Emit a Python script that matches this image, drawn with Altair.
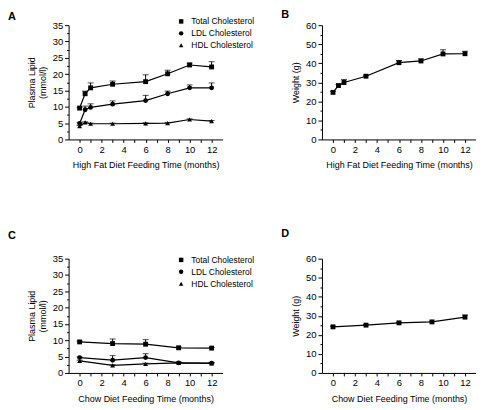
import altair as alt
import pandas as pd

FONT = "Liberation Sans"

# ---- Panel A: high fat diet lipids ----
hf_time = [0, 0.5, 1, 3, 6, 8, 10, 12]
hf_total = [9.6, 14.0, 15.8, 16.9, 17.7, 20.1, 22.8, 22.2]
hf_total_err = [0.2, 0.8, 1.5, 1.0, 2.1, 1.1, 0.6, 1.6]
hf_ldl = [4.9, 9.1, 9.8, 10.8, 11.9, 14.0, 15.8, 15.8]
hf_ldl_err = [0.3, 1.1, 1.1, 1.0, 1.6, 0.8, 0.9, 1.5]
hf_hdl = [4.1, 5.2, 4.8, 4.8, 4.9, 5.0, 6.1, 5.6]
hf_hdl_err = [0.2, 0.2, 0.2, 0.2, 0.2, 0.2, 0.2, 0.2]

# ---- Panel B: high fat diet weight ----
hf_weight = [24.7, 28.3, 29.9, 33.2, 40.3, 41.2, 44.9, 45.0]
hf_weight_err = [0.5, 0.5, 1.6, 0.5, 1.1, 1.1, 2.2, 1.3]

# ---- Panel C: chow diet lipids ----
ch_time = [0, 3, 6, 9, 12]
ch_total = [9.5, 9.0, 8.8, 7.7, 7.6]
ch_total_err = [0.2, 1.4, 1.4, 0.2, 0.2]
ch_ldl = [4.7, 3.9, 4.7, 3.1, 3.0]
ch_ldl_err = [0.2, 1.4, 1.2, 0.2, 0.2]
ch_hdl = [3.7, 2.3, 2.8, 3.1, 2.9]
ch_hdl_err = [0.2, 0.2, 0.2, 0.2, 0.2]

# ---- Panel D: chow diet weight ----
ch_weight = [24.2, 25.1, 26.3, 26.8, 29.3]
ch_weight_err = [0.3, 0.3, 0.3, 0.3, 1.1]

series_names = ["Total Cholesterol", "LDL Cholesterol", "HDL Cholesterol"]
series_shapes = ["square", "circle", "triangle-up"]

x_ticks = list(range(0, 13))
lipid_ticks = [v * 2.5 for v in range(0, 15)]
weight_ticks = list(range(0, 61, 5))


def lipid_df(time, vals, errs):
    rows = []
    for name, v, e in zip(series_names, vals, errs):
        for t, y, err in zip(time, v, e):
            rows.append({"t": t, "y": y, "hi": y + err, "series": name})
    return pd.DataFrame(rows)


def weight_df(time, vals, errs):
    return pd.DataFrame({"t": time, "y": vals, "hi": [a + b for a, b in zip(vals, errs)],
                         "series": ["Weight"] * len(time)})


def x_axis(title):
    return alt.Axis(values=x_ticks, title=title, labelOverlap=False,
                    labelExpr="datum.value % 2 === 0 ? datum.label : ''",
                    tickSize=3, titlePadding=7, labelPadding=2, titleFontWeight="normal")


def y_axis(ticks, major, title):
    return alt.Axis(values=ticks, title=title, labelOverlap=False, labelFlush=False,
                    labelExpr=f"datum.value % {major} === 0 ? datum.label : ''",
                    tickSize={"condition": {"test": f"datum.value % {major} !== 0", "value": 2}, "value": 4},
                    labelPadding=2, titlePadding=5, titleFontWeight="normal")


def panel(df, label, label_pos, xtitle, ydomain, yticks, ymajor, ytitle, legend_y):
    base = alt.Chart(df)
    xs = alt.Scale(domain=[-1, 13], nice=False, zero=False)
    ys = alt.Scale(domain=ydomain, nice=False)
    xe = alt.X("t:Q", scale=xs, axis=x_axis(xtitle))
    ye = alt.Y("y:Q", scale=ys, axis=y_axis(yticks, ymajor, ytitle))
    ye_hi = alt.Y("hi:Q", scale=ys, axis=y_axis(yticks, ymajor, ytitle))
    line = base.mark_line(color="black", strokeWidth=1.2).encode(x=xe, y=ye, detail="series:N")
    rule = base.mark_rule(color="black", strokeWidth=1).encode(x=xe, y=ye, y2="hi:Q")
    cap = base.mark_tick(color="black", thickness=1, size=6, orient="horizontal").encode(
        x=xe, y=ye_hi)
    if legend_y is not None:
        shape = alt.Shape("series:N",
                          scale=alt.Scale(domain=series_names, range=series_shapes),
                          legend=alt.Legend(title=None, orient="none", legendX=109, legendY=legend_y,
                                            symbolSize=20, symbolFillColor="black",
                                            symbolStrokeColor="black", symbolStrokeWidth=0,
                                            labelFontSize=8.5, labelFont=FONT, labelColor="black",
                                            rowPadding=3, labelOffset=6))
    else:
        shape = alt.value("square")
    pts = base.mark_point(filled=True, color="black", opacity=1, size=24).encode(
        x=xe, y=ye, shape=shape)
    lab = alt.Chart(pd.DataFrame({"label": [label]})).mark_text(
        fontWeight="bold", fontSize=11, font=FONT, color="black", align="left", baseline="top"
    ).encode(x=alt.value(label_pos[0]), y=alt.value(label_pos[1]), text="label:N")
    return alt.layer(rule, cap, line, pts, lab).properties(width=155, height=115)


A = panel(lipid_df(hf_time, [hf_total, hf_ldl, hf_hdl], [hf_total_err, hf_ldl_err, hf_hdl_err]),
          "A", (-61, -14), "High Fat Diet Feeding Time (months)", [0, 35], lipid_ticks, 5,
          ["Plasma Lipid", "(mmol/l)"], -8)
B = panel(weight_df(hf_time, hf_weight, hf_weight_err),
          "B", (-41, -16), "High Fat Diet Feeding Time (months)", [0, 60], weight_ticks, 10,
          "Weight (g)", None)
C = panel(lipid_df(ch_time, [ch_total, ch_ldl, ch_hdl], [ch_total_err, ch_ldl_err, ch_hdl_err]),
          "C", (-61, -29), "Chow Diet Feeding Time (months)", [0, 35], lipid_ticks, 5,
          ["Plasma Lipid", "(mmol/l)"], -3)
D = panel(weight_df(ch_time, ch_weight, ch_weight_err),
          "D", (-41, -31), "Chow Diet Feeding Time (months)", [0, 60], weight_ticks, 10,
          "Weight (g)", None)

chart = alt.concat(A, B, C, D, columns=2, spacing={"row": 120, "column": 100},
                   bounds="flush").resolve_scale(
    shape="independent").resolve_legend(shape="independent")

chart = chart.properties(padding=0, background="white").configure_view(
    stroke=None
).configure_axis(
    domainColor="black", tickColor="black", labelColor="black", titleColor="black",
    labelFont=FONT, titleFont=FONT, labelFontSize=9.5, titleFontSize=9,
    titleFontWeight="normal", grid=False, domainWidth=1, tickWidth=1
)

chart.save("out.html", embed_options={"renderer": "svg", "actions": False})
